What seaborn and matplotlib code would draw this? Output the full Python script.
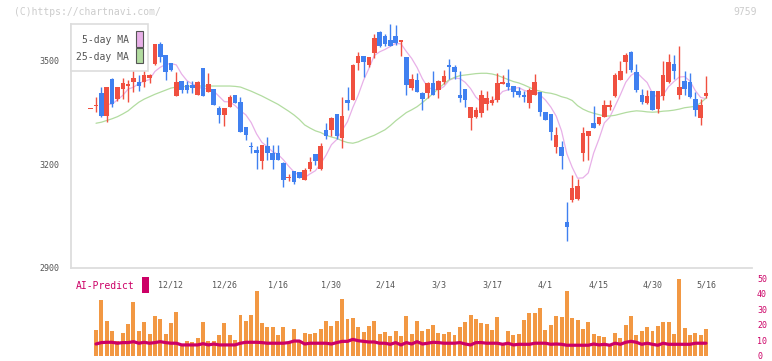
import numpy as np
import pandas as pd
import seaborn as sns
import matplotlib.pyplot as plt
from matplotlib.patches import Rectangle

# candle data, first entry is the day before the window (index -1)
opens = [3361, 3369, 3407, 3341, 3446, 3389, 3419, 3428, 3440, 3439, 3438,
         3450, 3490, 3550, 3517, 3494, 3399, 3442, 3430, 3430, 3402,
         3479, 3411, 3418, 3362, 3343, 3367, 3400, 3382, 3309, 3252,
         3241, 3208, 3254, 3232, 3232, 3203, 3160, 3180, 3177, 3154,
         3186, 3230, 3186, 3300, 3298, 3346, 3277, 3387, 3385, 3495,
         3514, 3488, 3524, 3584, 3573, 3561, 3573, 3555, 3512, 3422,
         3445, 3408, 3408, 3436, 3416, 3439, 3489, 3483, 3401, 3419,
         3335, 3338, 3350, 3376, 3379, 3387, 3433, 3436, 3427, 3414,
         3401, 3379, 3400, 3411, 3353, 3346, 3249, 3250, 3032, 3096,
         3100, 3232, 3283, 3319, 3318, 3337, 3367, 3398, 3445, 3497,
         3525, 3468, 3401, 3378, 3413, 3361, 3398, 3439, 3491, 3401,
         3442, 3439, 3390, 3335, 3398]
highs = [3361, 3394, 3423, 3423, 3450, 3425, 3450, 3445, 3482, 3458, 3477,
         3462, 3550, 3556, 3517, 3494, 3469, 3442, 3442, 3442, 3442,
         3479, 3464, 3418, 3370, 3362, 3401, 3400, 3394, 3309, 3266,
         3254, 3256, 3280, 3256, 3256, 3207, 3171, 3180, 3177, 3188,
         3222, 3230, 3261, 3321, 3338, 3346, 3394, 3425, 3491, 3526,
         3514, 3510, 3578, 3587, 3578, 3607, 3604, 3561, 3512, 3462,
         3466, 3410, 3439, 3471, 3445, 3474, 3506, 3489, 3471, 3419,
         3367, 3367, 3416, 3414, 3398, 3464, 3460, 3477, 3427, 3423,
         3414, 3421, 3462, 3411, 3353, 3346, 3307, 3268, 3089, 3169,
         3158, 3307, 3297, 3369, 3336, 3386, 3386, 3464, 3500, 3522,
         3529, 3491, 3419, 3416, 3413, 3413, 3500, 3520, 3517, 3544,
         3471, 3465, 3410, 3390, 3456]
lows = [3361, 3351, 3338, 3322, 3365, 3384, 3390, 3382, 3410, 3414, 3425,
        3435, 3488, 3496, 3445, 3472, 3399, 3406, 3406, 3406, 3402,
        3399, 3411, 3371, 3319, 3312, 3365, 3379, 3295, 3269, 3232,
        3187, 3187, 3212, 3187, 3212, 3133, 3150, 3143, 3160, 3154,
        3181, 3197, 3184, 3274, 3282, 3272, 3248, 3356, 3385, 3474,
        3454, 3483, 3507, 3540, 3542, 3542, 3546, 3514, 3401, 3416,
        3411, 3356, 3393, 3401, 3391, 3433, 3448, 3448, 3382, 3367,
        3300, 3335, 3338, 3356, 3372, 3382, 3432, 3416, 3396, 3396,
        3382, 3363, 3400, 3340, 3327, 3271, 3232, 3187, 2978, 3089,
        3096, 3208, 3211, 3306, 3314, 3337, 3358, 3396, 3445, 3465,
        3469, 3409, 3375, 3375, 3358, 3350, 3387, 3435, 3448, 3390,
        3401, 3391, 3340, 3314, 3392]
closes = [3361, 3371, 3341, 3423, 3376, 3423, 3436, 3432, 3451, 3428, 3459,
          3459, 3549, 3512, 3469, 3473, 3439, 3416, 3416, 3420, 3439,
          3399, 3433, 3371, 3343, 3362, 3396, 3379, 3295, 3285, 3250,
          3232, 3256, 3232, 3212, 3212, 3154, 3162, 3148, 3161, 3183,
          3206, 3208, 3253, 3282, 3335, 3282, 3340, 3379, 3488, 3514,
          3498, 3510, 3567, 3542, 3549, 3542, 3553, 3561, 3431, 3448,
          3411, 3390, 3436, 3401, 3442, 3457, 3483, 3468, 3393, 3387,
          3367, 3358, 3401, 3392, 3387, 3436, 3440, 3425, 3411, 3401,
          3396, 3416, 3439, 3353, 3327, 3295, 3285, 3225, 3019, 3131,
          3137, 3290, 3297, 3306, 3336, 3371, 3371, 3459, 3471, 3517,
          3474, 3416, 3381, 3398, 3358, 3413, 3459, 3497, 3472, 3425,
          3419, 3395, 3358, 3372, 3408]

# 25-day MA (days 0..114)
ma25 = [3319, 3322, 3327, 3332, 3338, 3346, 3355, 3368, 3380, 3389,
        3396, 3403, 3409, 3415, 3421, 3424, 3425, 3426, 3427, 3427,
        3427, 3427, 3427, 3427, 3427, 3427, 3426, 3424, 3418, 3412,
        3405, 3398, 3390, 3382, 3374, 3364, 3354, 3343, 3330, 3314,
        3305, 3297, 3292, 3284, 3279, 3275, 3268, 3263, 3261, 3265,
        3272, 3278, 3284, 3292, 3300, 3312, 3326, 3338, 3350, 3358,
        3367, 3379, 3392, 3405, 3420, 3433, 3445, 3452, 3457, 3459,
        3461, 3463, 3464, 3464, 3462, 3458, 3452, 3446, 3440, 3436,
        3430, 3423, 3416, 3412, 3408, 3406, 3402, 3396, 3392, 3385,
        3370, 3360, 3353, 3348, 3344, 3340, 3340, 3342, 3346, 3350,
        3353, 3355, 3354, 3352, 3351, 3352, 3354, 3355, 3357, 3360,
        3364, 3366, 3368, 3378, 3392]

volumes = [16.5, 36, 22.6, 16, 9.6, 14.7, 20.5, 35, 16, 21.8,
           14, 25.6, 23.7, 14, 21, 28, 7.7, 9.6, 9, 11.5,
           21.8, 9.6, 9.6, 13.5, 21, 13.5, 10.3, 26, 22.4, 26,
           41.7, 21, 18.6, 18.6, 13.5, 18.6, 9, 17, 9.5, 15,
           14, 15, 17.5, 22.6, 19.4, 22.6, 36.6, 23.7, 24.4, 18.6,
           15.4, 19.2, 22.4, 14, 15.4, 12.8, 16, 12.8, 25.6, 14,
           22.4, 16, 17.3, 19.9, 14.7, 14, 15.4, 13.5, 18.6, 21.8,
           26.3, 23.7, 21, 20.5, 16.7, 25, 7.7, 16, 13.5, 14,
           23, 27.6, 27.4, 30.8, 16.7, 19.9, 25.6, 25, 41.7, 24.4,
           23, 17.3, 21.8, 14, 12.8, 12.2, 7.7, 14.7, 11.5, 19.9,
           25.6, 13.5, 16, 18.6, 16, 19.2, 21.8, 21.8, 14, 49.5,
           18, 13.5, 14.7, 13.5, 17.3]

ai_predict = [7.6, 8.5, 8.7, 8.7, 8.1, 8.5, 8.5, 9.1, 8.1, 8.7,
              8.1, 8.5, 9.1, 8.5, 8.1, 8.1, 7.0, 7.0, 7.0, 7.0,
              7.8, 7.0, 7.6, 7.0, 7.0, 7.0, 7.0, 8.1, 8.7, 8.7,
              8.7, 8.5, 8.1, 8.1, 8.1, 8.1, 8.5, 9.5, 9.5, 7.6,
              8.1, 8.1, 8.1, 8.1, 7.6, 8.5, 9.3, 9.3, 10.6, 9.7,
              9.3, 8.9, 8.9, 8.1, 8.1, 7.4, 8.5, 7.0, 8.5, 7.6,
              9.1, 7.6, 8.1, 8.7, 8.5, 8.1, 8.1, 8.1, 8.5, 7.6,
              7.0, 8.5, 8.5, 8.1, 8.1, 8.1, 7.4, 8.1, 7.0, 7.4,
              7.4, 7.4, 8.1, 8.1, 8.1, 7.4, 7.6, 7.4, 6.8, 6.8,
              6.8, 6.8, 6.8, 7.6, 7.0, 7.4, 6.8, 8.1, 7.4, 8.7,
              9.3, 8.7, 7.4, 8.1, 7.4, 6.8, 8.1, 7.4, 7.4, 7.4,
              7.4, 7.4, 8.1, 8.1, 8.1]

date_labels = ['12/12', '12/26', '1/16', '1/30', '2/14', '3/3',
               '3/17', '4/1', '4/15', '4/30', '5/16']
label_days = [14, 24, 34, 44, 54, 64, 74, 84, 94, 104, 114]

UP = '#f05040'
DOWN = '#4080f0'
MA5_C = '#e8b0e8'
MA25_C = '#b2dca0'
VOL_C = '#f29843'
AI_C = '#cc0066'
GRID_C = '#dddddd'
TXT_C = '#555555'

sns.set_style('white')
plt.rcParams['font.family'] = ['DejaVu Sans Mono']

df = pd.DataFrame({'day': np.arange(len(opens)) - 1, 'open': opens, 'high': highs,
                   'low': lows, 'close': closes})
df['ma5'] = df['close'].rolling(5, min_periods=4).mean()
up = df['close'] >= df['open']
df['color'] = np.where(up, UP, DOWN)
body_lo = df[['open', 'close']].min(axis=1)
body_h = (df['close'] - df['open']).abs().clip(lower=3.5)

vol = pd.DataFrame({'day': np.arange(len(volumes)), 'volume': volumes,
                    'ai': ai_predict, 'ma25': ma25})

fig = plt.figure(figsize=(7.72, 3.61), dpi=100)
ax = fig.add_axes([0.0916, 0.2587, 0.8825, 0.6748])
vax = fig.add_axes([0.0916, 0.0145, 0.8825, 0.2146])

xlim = (-4.73, 122.6)

# moving averages
sns.lineplot(data=df, x='day', y='ma5', ax=ax, color=MA5_C, lw=0.9, zorder=1)
sns.lineplot(data=vol, x='day', y='ma25', ax=ax, color=MA25_C, lw=0.9, zorder=1)

# candles
ax.vlines(df['day'], df['low'], df['high'], colors=df['color'], lw=1.0, zorder=2)
ax.bar(df['day'], body_h, bottom=body_lo, width=0.85, color=df['color'],
       linewidth=0, zorder=3)

ax.set_xlim(xlim)
ax.set_ylim(2900, 3607)
ax.set_xlabel('')
ax.set_ylabel('')
for s in ['top', 'right']:
    ax.spines[s].set_visible(False)
for s in ['left', 'bottom']:
    ax.spines[s].set_color(GRID_C)
    ax.spines[s].set_linewidth(1.3)

ax.set_yticks([2900, 3200, 3500])
ax.tick_params(axis='y', length=3.6, width=1.2, color=GRID_C, labelcolor=TXT_C,
               labelsize=6, pad=4.3)
ax.set_xticks(label_days)
ax.set_xticklabels(date_labels)
ax.tick_params(axis='x', which='major', length=0, labelcolor=TXT_C, labelsize=6, pad=9)
ax.set_xticks(np.linspace(xlim[0], xlim[1], 12)[1:], minor=True)
ax.tick_params(axis='x', which='minor', length=5.8, width=1.2, color=GRID_C, direction='out')

# legend box
ax.add_patch(Rectangle((0, 0.807), 0.114, 0.193, transform=ax.transAxes,
                       facecolor='white', edgecolor=GRID_C, lw=1.2, zorder=5, clip_on=False))
ax.text(0.086, 0.934, '5-day MA', transform=ax.transAxes, ha='right', va='center',
        fontsize=7, color=TXT_C, zorder=6)
ax.text(0.086, 0.863, '25-day MA', transform=ax.transAxes, ha='right', va='center',
        fontsize=7, color=TXT_C, zorder=6)
ax.add_patch(Rectangle((0.0962, 0.907), 0.0099, 0.064, transform=ax.transAxes,
                       facecolor=MA5_C, edgecolor='#555555', lw=0.8, zorder=6))
ax.add_patch(Rectangle((0.0962, 0.839), 0.0099, 0.061, transform=ax.transAxes,
                       facecolor=MA25_C, edgecolor='#555555', lw=0.8, zorder=6))

# volume panel
sns.barplot(data=vol, x='day', y='volume', ax=vax, native_scale=True, width=0.74,
            color=VOL_C, saturation=1, errorbar=None, linewidth=0, zorder=1)
sns.lineplot(data=vol, x='day', y='ai', ax=vax, color=AI_C, lw=2.3, zorder=3)
vax.set_xlim(xlim)
vax.set_ylim(0, 50)
vax.set_xlabel('')
vax.set_ylabel('')
vax.set_xticks([])
for s in vax.spines.values():
    s.set_visible(False)
vax.yaxis.tick_right()
vax.set_yticks([0, 10, 20, 30, 40, 50])
vax.tick_params(axis='y', length=0, labelcolor=AI_C, labelsize=6, pad=3.6)
vax.patch.set_alpha(0)

fig.text(76 / 772, 1 - 286 / 361, 'AI-Predict', color=AI_C, fontsize=7, ha='left', va='center')
fig.patches.append(Rectangle((142 / 772, 1 - 293 / 361), 7 / 772, 16 / 361,
                             transform=fig.transFigure, facecolor=AI_C, edgecolor='none'))

fig.text(14 / 772, 1 - 12 / 361, '(C)https://chartnavi.com/', color='#cccccc', fontsize=7,
         ha='left', va='center')
fig.text(757 / 772, 1 - 12 / 361, '9759', color='#cccccc', fontsize=7, ha='right', va='center')

fig.savefig('out.png', dpi=100)
